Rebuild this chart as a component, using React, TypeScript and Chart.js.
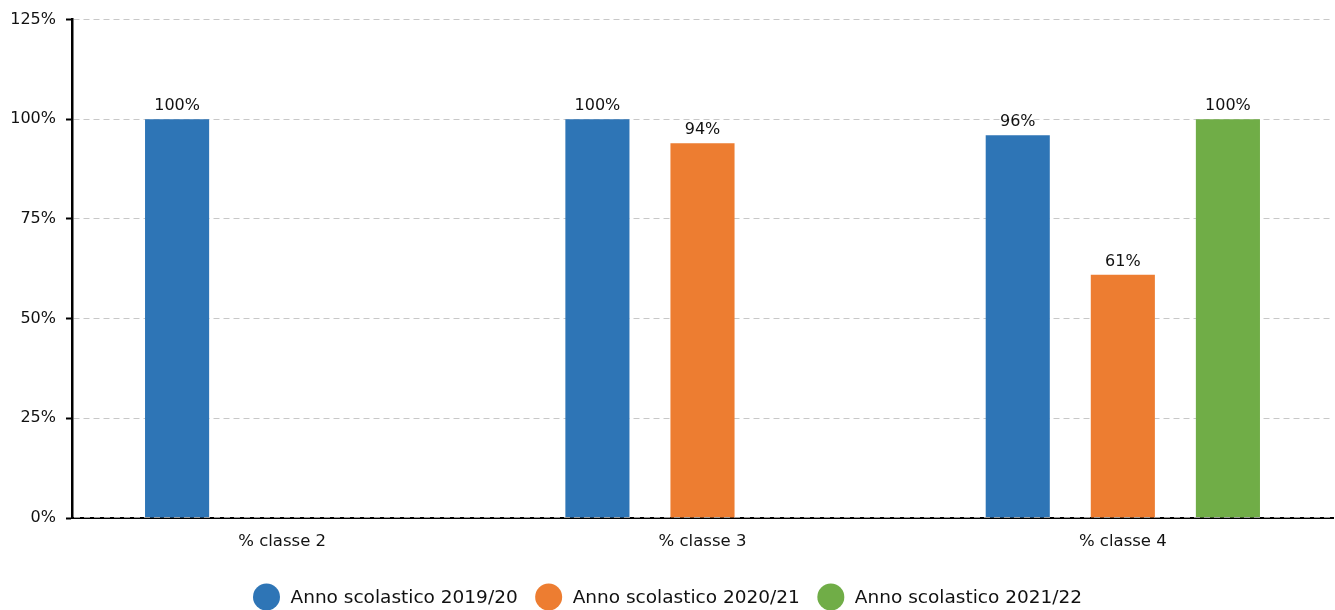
import React, { useEffect, useRef } from "react";
import { Chart, registerables } from "chart.js";

Chart.register(...registerables);

const categories = ["% classe 2", "% classe 3", "% classe 4"];
const seriesNames = ["Anno scolastico 2019/20", "Anno scolastico 2020/21", "Anno scolastico 2021/22"];
const series2019 = [100, 100, 96];
const series2020 = [null, 94, 61];
const series2021 = [null, null, 100];
const seriesColors = ["#2e75b6", "#ed7d31", "#70ad47"];
const yTicks = [0, 25, 50, 75, 100, 125];

const FONT = "'DejaVu Sans', sans-serif";
const TEXT = "#111";

const valueLabels = {
  id: "valueLabels",
  afterDatasetsDraw(chart: any) {
    const ctx = chart.ctx;
    ctx.save();
    ctx.font = `16px ${FONT}`;
    ctx.fillStyle = TEXT;
    ctx.textAlign = "center";
    ctx.textBaseline = "alphabetic";
    chart.data.datasets.forEach((ds: any, i: number) => {
      const meta = chart.getDatasetMeta(i);
      meta.data.forEach((el: any, j: number) => {
        const v = ds.data[j];
        if (v === null || v === undefined) return;
        ctx.fillText(`${v}%`, el.x, el.y - 9);
      });
    });
    ctx.restore();
  },
};

const zeroDash = {
  id: "zeroDash",
  afterDraw(chart: any) {
    const ctx = chart.ctx;
    const y = chart.scales.y.getPixelForValue(0);
    const { left, right } = chart.chartArea;
    ctx.save();
    ctx.strokeStyle = "#9a9a9a";
    ctx.lineWidth = 1;
    ctx.setLineDash([6, 4]);
    ctx.beginPath();
    ctx.moveTo(left + 2, y - 0.5);
    ctx.lineTo(right, y - 0.5);
    ctx.stroke();
    ctx.restore();
  },
};

const customLegend = {
  id: "customLegend",
  afterDraw(chart: any) {
    const ctx = chart.ctx;
    ctx.save();
    ctx.font = `18.5px ${FONT}`;
    ctx.textBaseline = "middle";
    ctx.textAlign = "left";
    const r = 13.5;
    const gapText = 10.5;
    const gapItem = 17.5;
    const items = chart.data.datasets.map((ds: any) => ({
      label: ds.label,
      color: ds.backgroundColor,
      w: ctx.measureText(ds.label).width,
    }));
    const total = items.reduce((s: number, it: any) => s + 2 * r + gapText + it.w, 0) + gapItem * (items.length - 1);
    let x = (chart.width - total) / 2;
    const y = 597;
    items.forEach((it: any) => {
      ctx.beginPath();
      ctx.fillStyle = it.color;
      ctx.arc(x + r, y, r, 0, Math.PI * 2);
      ctx.fill();
      ctx.fillStyle = TEXT;
      ctx.fillText(it.label, x + 2 * r + gapText, y + 1);
      x += 2 * r + gapText + it.w + gapItem;
    });
    ctx.restore();
  },
};

export default function App() {
  const ref = useRef<HTMLCanvasElement>(null);
  useEffect(() => {
    if (!ref.current) return;
    const allData = [series2019, series2020, series2021];
    const chart = new Chart(ref.current, {
      type: "bar",
      data: {
        labels: categories,
        datasets: seriesNames.map((name, i) => ({
          label: name,
          data: allData[i] as any,
          backgroundColor: seriesColors[i],
          categoryPercentage: 0.75,
          barPercentage: 0.61,
        })),
      },
      options: {
        animation: false,
        responsive: false,
        maintainAspectRatio: false,
        layout: { padding: { top: 9, right: 2, bottom: 0, left: 0 } },
        plugins: {
          legend: { display: false },
          tooltip: { enabled: false },
        },
        scales: {
          x: {
            grid: { display: false, drawTicks: false },
            border: { display: true, color: "#000", width: 2 },
            ticks: { font: { family: FONT, size: 16.5 }, color: TEXT, padding: 14 },
            afterFit: (s: any) => { s.height = 92; },
          },
          y: {
            min: 0,
            max: 125,
            afterBuildTicks: (s: any) => { s.ticks = yTicks.map((v) => ({ value: v })); },
            ticks: {
              font: { family: FONT, size: 16 },
              color: TEXT,
              padding: 10,
              callback: (v: any) => `${v}%`,
            },
            grid: {
              color: "#c8c8c8",
              lineWidth: 1,
              drawTicks: true,
              tickLength: 6,
              tickColor: "#000",
              tickWidth: 2,
              tickBorderDash: [],
            } as any,
            border: { display: true, color: "#000", width: 2.5, dash: [6, 4] } as any,
            afterFit: (s: any) => { s.width = 72; },
          },
        },
      },
      plugins: [valueLabels, zeroDash, customLegend],
    });
    return () => chart.destroy();
  }, []);
  return (
    <div style={{ position: "absolute", left: 0, top: 0, width: 1335, height: 610, background: "#fff" }}>
      <canvas ref={ref} width={1335} height={610} style={{ display: "block" }} />
    </div>
  );
}
